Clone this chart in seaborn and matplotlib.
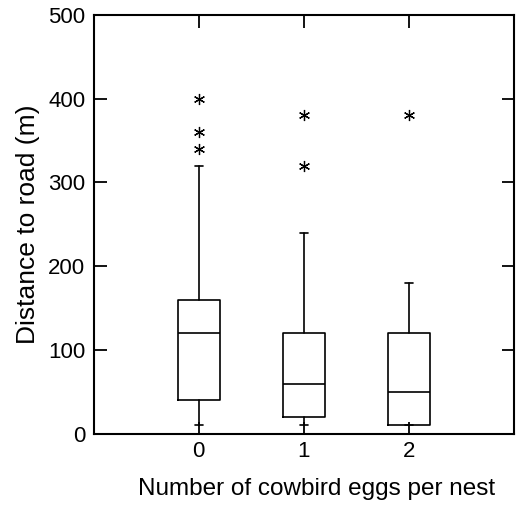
import matplotlib
matplotlib.use("Agg")
import matplotlib.pyplot as plt
import seaborn as sns

# box summaries (distance to road, m)
groups = ["0", "1", "2"]
whisker_low = [10, 10, 10]
q1 = [40, 20, 10]
medians = [120, 60, 50]
q3 = [160, 120, 120]
whisker_high = [320, 240, 180]
outliers = [[340, 360, 400], [320, 380], [380]]

sns.set_style("ticks", {"xtick.direction": "in", "ytick.direction": "in"})
plt.rcParams["font.family"] = ["Liberation Sans", "DejaVu Sans"]

stats = []
for i, g in enumerate(groups):
    stats.append(dict(label=g, whislo=whisker_low[i], q1=q1[i], med=medians[i],
                      q3=q3[i], whishi=whisker_high[i], fliers=outliers[i]))

fig = plt.figure(figsize=(5.18, 5.14), dpi=100)
ax = fig.add_axes([0.181, 0.156, 0.811, 0.815])

line = dict(color="black", linewidth=1.2)
ax.bxp(stats, positions=range(len(groups)), widths=0.4,
       boxprops=line, medianprops=line, whiskerprops=line,
       capprops=line, capwidths=0.08,
       flierprops=dict(marker=(6, 2, 0), markersize=8, markeredgecolor="black",
                       markeredgewidth=0.9, linestyle="none"))

ax.set_xlim(-1, 3)
ax.set_ylim(0, 500)
ax.set_yticks([0, 100, 200, 300, 400, 500])
ax.set_xticks(range(len(groups)))
ax.set_xticklabels(groups)
ax.tick_params(axis="both", which="both", direction="in", length=9, width=1.3,
               labelsize=16, top=True, right=True, color="black", labelcolor="black")
ax.tick_params(axis="y", pad=6)
ax.tick_params(axis="x", pad=5)
for s in ax.spines.values():
    s.set_linewidth(1.5)
    s.set_color("black")

ax.set_ylabel("Distance to road (m)", fontsize=19, labelpad=6, color="black")
ax.set_xlabel("Number of cowbird eggs per nest", fontsize=17.5, color="black")
ax.xaxis.set_label_coords(0.53, -0.105)

plt.savefig("out.png", dpi=100)
